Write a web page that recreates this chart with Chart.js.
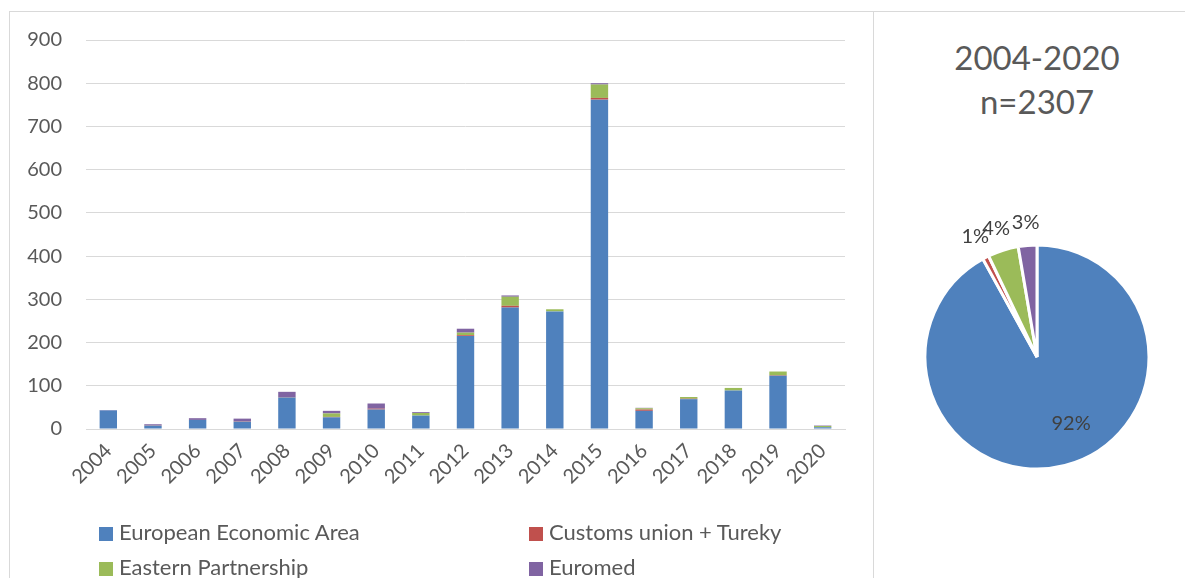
<!DOCTYPE html>
<html lang="en">
<head>
  <meta charset="UTF-8" />
  <title>Agreements 2004-2020</title>
  <script src="https://cdn.jsdelivr.net/npm/chart.js"></script>
  <style>
    body { margin: 0; background: #fff; font-family: Lato, 'Open Sans', sans-serif; width: 1185px; height: 578px; overflow: hidden; position: relative; }
    .frame { position: absolute; left: 9px; top: 11px; width: 1300px; height: 700px; border-left: 1px solid #d9d9d9; border-top: 1px solid #d9d9d9; }
    .divider { position: absolute; left: 873px; top: 11px; height: 700px; border-left: 1px solid #d9d9d9; }
    #bars { position: absolute; left: 0; top: 0; }
    #pie { position: absolute; left: 887px; top: 207px; }
    .title { position: absolute; left: 873px; width: 328px; text-align: center; color: #595959; font-size: 33px; line-height: 44px; top: 35px; }
    .legend { position: absolute; font-size: 22px; color: #595959; white-space: nowrap; }
    .legend span.box { display: inline-block; width: 14px; height: 14px; margin-right: 6px; vertical-align: -1px; }
  </style>
</head>
<body>
  <div class="frame"></div>
  <div class="divider"></div>
  <canvas id="bars" width="873" height="578"></canvas>
  <div class="title">2004-2020<br>n=2307</div>
  <canvas id="pie" width="300" height="300"></canvas>
  <div id="legend"></div>

  <script>
    const years = ["2004","2005","2006","2007","2008","2009","2010","2011","2012","2013","2014","2015","2016","2017","2018","2019","2020"];
    const eea     = [43, 8, 21, 17, 73, 27, 45, 31, 215, 281, 272, 762, 42, 69, 89, 123, 4];
    const customs = [0, 1, 0, 1, 1, 1, 2, 0, 2, 4, 0, 4, 3, 1, 0, 1, 0];
    const eastern = [0, 0, 0, 0, 0, 8, 0, 6, 6, 21, 5, 31, 3, 4, 6, 9, 3];
    const euromed = [1, 2, 4, 6, 12, 6, 12, 2, 9, 3, 0, 3, 1, 0, 0, 0, 1];
    const yTicks = [0, 100, 200, 300, 400, 500, 600, 700, 800, 900];

    const names = ["European Economic Area", "Customs union + Tureky", "Eastern Partnership", "Euromed"];
    const colors = ["#4f81bd", "#c0504d", "#9bbb59", "#8064a2"];
    const series = [eea, customs, eastern, euromed];
    const totals = series.map(s => s.reduce((a, b) => a + b, 0));
    const n = totals.reduce((a, b) => a + b, 0);

    const font = { family: "Lato, 'Open Sans', sans-serif", size: 20 };

    new Chart(document.getElementById("bars"), {
      type: "bar",
      data: {
        labels: years,
        datasets: series.map((s, i) => ({
          label: names[i], data: s, backgroundColor: colors[i],
          barPercentage: 0.39, categoryPercentage: 1
        }))
      },
      options: {
        responsive: false,
        animation: false,
        layout: { padding: { top: 40, right: 28, left: 0, bottom: 0 } },
        plugins: { legend: { display: false }, tooltip: { enabled: false } },
        scales: {
          x: {
            stacked: true,
            grid: { display: false, drawTicks: false },
            border: { color: "#d9d9d9" },
            ticks: { color: "#595959", font, minRotation: 45, maxRotation: 45, padding: 10, autoSkip: false },
            afterFit: s => { s.height = 149; }
          },
          y: {
            stacked: true,
            min: 0, max: 900,
            afterBuildTicks: s => { s.ticks = yTicks.map(v => ({ value: v })); },
            grid: { color: "#d9d9d9", drawTicks: false },
            border: { display: false },
            ticks: { color: "#595959", font, padding: 24 },
            afterFit: s => { s.width = 86; }
          }
        }
      }
    });

    // legend in two columns like the original
    const legendPos = [[99, 518], [529, 518], [99, 553], [529, 553]];
    document.getElementById("legend").innerHTML = names.map((nm, i) =>
      `<div class="legend" style="left:${legendPos[i][0]}px;top:${legendPos[i][1]}px"><span class="box" style="background:${colors[i]}"></span>${nm}</div>`
    ).join("");

    const pieLabels = {
      id: "pieLabels",
      afterDatasetsDraw(chart) {
        const ctx = chart.ctx;
        const meta = chart.getDatasetMeta(0);
        ctx.save();
        ctx.font = "20px Lato, 'Open Sans', sans-serif";
        ctx.fillStyle = "#404040";
        ctx.textAlign = "center";
        ctx.textBaseline = "middle";
        meta.data.forEach((arc, i) => {
          const mid = (arc.startAngle + arc.endAngle) / 2 - (i === 0 ? 0.22 : 0);
          const r = i === 0 ? arc.outerRadius * 0.67 : arc.outerRadius + 23;
          const pct = Math.round(totals[i] / n * 100) + "%";
          ctx.fillText(pct, arc.x + Math.cos(mid) * r, arc.y + Math.sin(mid) * r);
        });
        ctx.restore();
      }
    };

    new Chart(document.getElementById("pie"), {
      type: "pie",
      data: {
        labels: names,
        datasets: [{ data: totals, backgroundColor: colors, borderColor: "#fff", borderWidth: 3 }]
      },
      options: {
        responsive: false,
        animation: false,
        radius: 112,
        plugins: { legend: { display: false }, tooltip: { enabled: false } }
      },
      plugins: [pieLabels]
    });
  </script>
</body>
</html>
